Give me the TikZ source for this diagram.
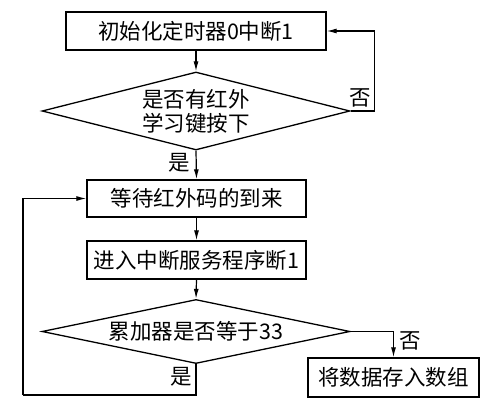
\documentclass[tikz,border=0pt]{standalone}
\usepackage{fontspec}
\setmainfont{Noto Sans CJK SC}
\usetikzlibrary{shapes.geometric,arrows.meta}
\tikzset{
  every node/.style={font=\fontsize{21.5}{24}\selectfont},
  procbox/.style={draw, line width=1.3pt, rectangle, inner sep=0pt},
  decide/.style={draw, line width=1.3pt, diamond, inner sep=0pt, aspect=3.95},
  flow/.style={line width=1.2pt, -{Latex[length=10pt,width=5pt]}},
  plain/.style={line width=1.2pt},
  lbl/.style={inner sep=0pt}
}
\begin{document}
\begin{tikzpicture}[x=1pt,y=-1pt]
\useasboundingbox (0,0) rectangle (488,415);
\node[procbox, minimum width=260pt, minimum height=38pt] (b1) at (196,31) {初始化定时器0中断1};
\node[decide, minimum width=308pt, minimum height=78pt, align=center] (d1) at (196,111) {是否有红外\\学习键按下};
\node[procbox, minimum width=219pt, minimum height=37pt] (b2) at (196.5,198.5) {等待红外码的到来};
\node[procbox, minimum width=219pt, minimum height=38pt] (b3) at (196.5,260) {进入中断服务程序断1};
\node[decide, minimum width=308pt, minimum height=57pt] (d2) at (196,331.5) {累加器是否等于33};
\node[procbox, minimum width=171pt, minimum height=39pt] (b4) at (393.5,377.5) {将数据存入数组};
\coordinate (c1) at (23,395);
\node[lbl] (n1) at (360,98) {否};
\node[lbl] (y1) at (179,163) {是};
\node[lbl] (n2) at (410,341) {否};
\node[lbl] (y2) at (181,377) {是};
\draw[flow] (b1.south) -- (d1.north);
\draw[flow] (d1.east) -- ++(24,0) |- (b1.east);
\draw[flow] (d1.south) -- (b2.north);
\draw[flow] (b2.south) -- (b3.north);
\draw[flow] (b3.south) -- (d2.north);
\draw[flow] (d2.east) -| (b4.north);
\draw[plain] (d2.south) |- (c1);
\draw[flow] (c1) |- (b2.west);
\end{tikzpicture}
\end{document}
